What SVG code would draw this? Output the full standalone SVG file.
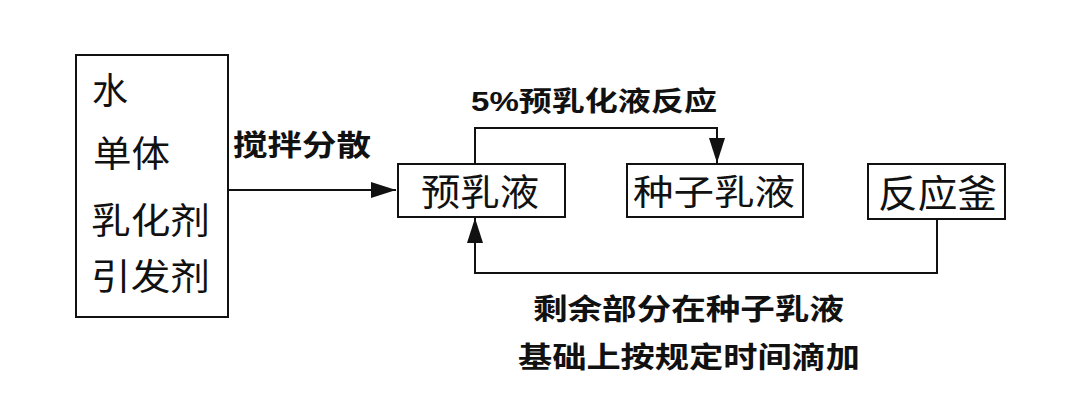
<svg xmlns="http://www.w3.org/2000/svg" width="1080" height="411" viewBox="0 0 1080 411">
<style>
.box{fill:#fff;stroke:#111;stroke-width:2}
.t{font-family:"Liberation Sans","Noto Sans CJK SC",sans-serif;fill:#111}
.lbl{font-family:"Liberation Sans","Noto Sans CJK SC",sans-serif;font-weight:bold;fill:#111}
.ln{fill:none;stroke:#111;stroke-width:2}
</style>
<defs>
<marker id="ah" viewBox="0 0 25 16" refX="25" refY="8" markerWidth="25" markerHeight="16" markerUnits="userSpaceOnUse" orient="auto">
<path d="M0,0 L25,8 L0,16 Z" fill="#111"/>
</marker>
</defs>
<rect width="1080" height="411" fill="#fff"/>
<g id="connectors">
<line class="ln" x1="228" y1="190" x2="396" y2="190" marker-end="url(#ah)"/>
<text class="lbl" x="233" y="156" font-size="29" textLength="138" lengthAdjust="spacingAndGlyphs">搅拌分散</text>
<polyline class="ln" points="475,164 475,128 717,128 717,163" marker-end="url(#ah)"/>
<text class="lbl" x="471" y="111" font-size="27" textLength="246" lengthAdjust="spacingAndGlyphs">5%预乳化液反应</text>
<polyline class="ln" points="937,219 937,273 475,273 475,218" marker-end="url(#ah)"/>
<text class="lbl" x="533" y="320" font-size="29" textLength="311" lengthAdjust="spacingAndGlyphs">剩余部分在种子乳液</text>
<text class="lbl" x="518" y="368" font-size="29" textLength="342" lengthAdjust="spacingAndGlyphs">基础上按规定时间滴加</text>
</g>
<g id="raw">
<rect class="box" x="76" y="55" width="152" height="262"/>
<text class="t" x="92" y="104" font-size="36">水</text>
<text class="t" x="93" y="167" font-size="36" textLength="77" lengthAdjust="spacingAndGlyphs">单体</text>
<text class="t" x="91" y="234" font-size="36" textLength="119" lengthAdjust="spacingAndGlyphs">乳化剂</text>
<text class="t" x="91" y="290" font-size="36" textLength="119" lengthAdjust="spacingAndGlyphs">引发剂</text>
</g>
<g id="pre">
<rect class="box" x="398" y="164" width="167" height="53"/>
<text class="t" x="421" y="206" font-size="37" textLength="118" lengthAdjust="spacingAndGlyphs">预乳液</text>
</g>
<g id="seed">
<rect class="box" x="627" y="164" width="176" height="53"/>
<text class="t" x="633" y="205" font-size="35" textLength="162" lengthAdjust="spacingAndGlyphs">种子乳液</text>
</g>
<g id="reactor">
<rect class="box" x="868" y="164" width="137" height="55"/>
<text class="t" x="878" y="207" font-size="38" textLength="119" lengthAdjust="spacingAndGlyphs">反应釜</text>
</g>
</svg>
